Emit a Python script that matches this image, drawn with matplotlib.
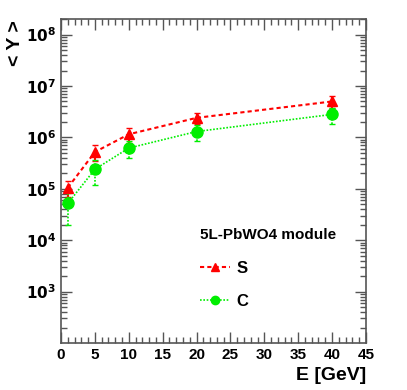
import matplotlib.pyplot as plt
from matplotlib.lines import Line2D
from matplotlib.ticker import MultipleLocator, LogLocator, NullFormatter

plt.rcParams['font.family'] = ['Liberation Sans', 'DejaVu Sans']
plt.rcParams['font.weight'] = 'bold'

energy = [1, 5, 10, 20, 40]
s_vals = [1.05e5, 5.2e5, 1.15e6, 2.4e6, 5.0e6]
s_err = [0.35e5, 1.8e5, 0.37e6, 0.6e6, 1.3e6]
c_vals = [5.2e4, 2.4e5, 6.2e5, 1.3e6, 2.8e6]
c_err = [3.2e4, 1.2e5, 2.3e5, 0.45e6, 0.95e6]

fig = plt.figure(figsize=(4.07, 3.90), dpi=100)
ax = fig.add_axes([0.150, 0.1205, 0.749, 0.8305])

s = ax.errorbar(energy, s_vals, yerr=s_err, color='red', marker='^', markersize=7,
                linestyle=(0, (2, 1.5)), linewidth=1.5, elinewidth=1.5, capsize=2, capthick=1)
s[-1][0].set_linestyle((0, (2, 1.5)))
c = ax.errorbar(energy, c_vals, yerr=c_err, color='#00ee00', marker='o', markersize=8,
                linestyle=(0, (1, 1)), linewidth=1.2, elinewidth=1.2, capsize=2, capthick=1)
c[-1][0].set_linestyle((0, (1, 1)))

ax.set_yscale('log')
ax.set_xlim(0, 45)
ax.set_ylim(100, 2e8)

ax.xaxis.set_major_locator(MultipleLocator(5))
ax.xaxis.set_minor_locator(MultipleLocator(1))
ax.yaxis.set_major_locator(LogLocator(base=10, numticks=20))
ax.yaxis.set_minor_locator(LogLocator(base=10, subs=range(2, 10), numticks=20))
ax.yaxis.set_minor_formatter(NullFormatter())
ax.tick_params(which='both', direction='in', top=True, right=True, labelsize=11, color='#555555')
ax.tick_params(which='major', length=8, width=1)
ax.tick_params(which='minor', length=4, width=1)
ax.set_yticks([1e3, 1e4, 1e5, 1e6, 1e7, 1e8])
ax.set_yticklabels([r'$\mathbf{10^{%d}}$' % k for k in range(3, 9)])
for lab in ax.get_xticklabels():
    lab.set_fontweight('bold')
for sp in ax.spines.values():
    sp.set_color('#555555')
    sp.set_linewidth(1.2)

ax.set_xlabel('E [GeV]', fontsize=14, fontweight='bold', loc='right')
fig.text(16 / 407, 1 - 20 / 390, '< Y >', rotation=90, ha='center', va='top',
         fontsize=14, fontweight='bold')

h_s = Line2D([], [], color='red', marker='^', markersize=6, linestyle=(0, (2, 1.5)), linewidth=1.5)
h_c = Line2D([], [], color='#00ee00', marker='o', markersize=6, linestyle=(0, (1, 1)), linewidth=1.2)
leg = ax.legend([h_s, h_c], ['S', 'C'], title='5L-PbWO4 module', frameon=False,
                loc='upper left', bbox_to_anchor=(0.405, 0.40), fontsize=12,
                title_fontproperties={'weight': 'bold', 'size': 11},
                handlelength=1.8, handletextpad=0.4, labelspacing=1.1, alignment='left')
for t in leg.get_texts():
    t.set_fontweight('bold')

fig.savefig('out.png', dpi=100)
